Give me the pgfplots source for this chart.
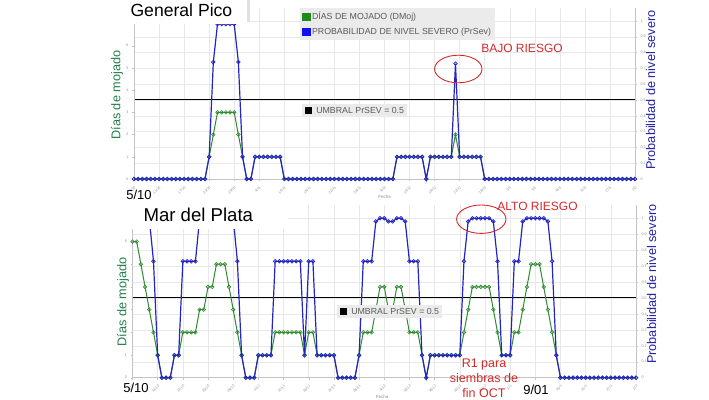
\documentclass[border=0pt]{standalone}
\usepackage{pgfplots}
\pgfplotsset{compat=1.18}
\usepackage{pgfplotstable}
\usepackage{fontspec}
\setmainfont{Liberation Sans}
\definecolor{bl}{HTML}{2424C4}
\definecolor{gr}{HTML}{2E8B2E}
\definecolor{glab}{HTML}{23804F}
\definecolor{blab}{HTML}{2222A8}
\definecolor{rd}{HTML}{D42A2A}
\definecolor{gridc}{HTML}{E8E8E8}
\definecolor{axc}{HTML}{C4C4C4}
\definecolor{lgbg}{HTML}{EBEBEB}
\definecolor{lgtx}{HTML}{5A5A5A}
\definecolor{tkc}{HTML}{8A8A8A}
\definecolor{lgg}{HTML}{1E8A1E}
\definecolor{lgb}{HTML}{1010F0}

% General Pico: i = day index from 5/10, g = dias de mojado, b = PrSev
\pgfplotstableread[row sep=\\]{
i g b\\
0 0 0\\1 0 0\\2 0 0\\3 0 0\\4 0 0\\5 0 0\\6 0 0\\7 0 0\\8 0 0\\9 0 0\\
10 0 0\\11 0 0\\12 0 0\\13 0 0\\14 0 0\\15 0 0\\16 0 0\\17 0 0\\18 1 0.14\\19 2 0.74\\
20 3 0.98\\21 3 0.98\\22 3 0.98\\23 3 0.98\\24 3 0.98\\25 2 0.74\\26 1 0.14\\27 0 0\\28 0 0\\29 1 0.14\\
30 1 0.14\\31 1 0.14\\32 1 0.14\\33 1 0.14\\34 1 0.14\\35 1 0.14\\36 0 0\\37 0 0\\38 0 0\\39 0 0\\
40 0 0\\41 0 0\\42 0 0\\43 0 0\\44 0 0\\45 0 0\\46 0 0\\47 0 0\\48 0 0\\49 0 0\\
50 0 0\\51 0 0\\52 0 0\\53 0 0\\54 0 0\\55 0 0\\56 0 0\\57 0 0\\58 0 0\\59 0 0\\
60 0 0\\61 0 0\\62 0 0\\63 1 0.14\\64 1 0.14\\65 1 0.14\\66 1 0.14\\67 1 0.14\\68 1 0.14\\69 1 0.14\\
70 0 0\\71 1 0.14\\72 1 0.14\\73 1 0.14\\74 1 0.14\\75 1 0.14\\76 1 0.14\\77 2 0.73\\78 1 0.14\\79 1 0.14\\
80 1 0.14\\81 1 0.14\\82 1 0.14\\83 1 0.14\\84 0 0\\85 0 0\\86 0 0\\87 0 0\\88 0 0\\89 0 0\\
90 0 0\\91 0 0\\92 0 0\\93 0 0\\94 0 0\\95 0 0\\96 0 0\\97 0 0\\98 0 0\\99 0 0\\
100 0 0\\101 0 0\\102 0 0\\103 0 0\\104 0 0\\105 0 0\\106 0 0\\107 0 0\\108 0 0\\109 0 0\\
110 0 0\\111 0 0\\112 0 0\\113 0 0\\114 0 0\\115 0 0\\116 0 0\\117 0 0\\118 0 0\\119 0 0\\
120 0 0\\
}\gp

% Mar del Plata
\pgfplotstableread[row sep=\\]{
i g b\\
0 6 1\\1 6 1\\2 5 1\\3 4 1\\4 3 1\\5 2 0.73\\6 1 0.14\\7 0 0\\8 0 0\\9 0 0\\
10 1 0.14\\11 1 0.14\\12 2 0.73\\13 2 0.73\\14 2 0.73\\15 2 0.73\\16 3 1\\17 3 1\\18 4 1\\19 4 1\\
20 5 1\\21 5 1\\22 5 1\\23 4 1\\24 3 1\\25 2 0.73\\26 1 0.14\\27 0 0\\28 0 0\\29 0 0\\
30 1 0.14\\31 1 0.14\\32 1 0.14\\33 1 0.14\\34 2 0.73\\35 2 0.73\\36 2 0.73\\37 2 0.73\\38 2 0.73\\39 2 0.73\\
40 2 0.73\\41 1 0.14\\42 2 0.73\\43 2 0.73\\44 1 0.14\\45 1 0.14\\46 1 0.14\\47 1 0.14\\48 1 0.14\\49 0 0\\
50 0 0\\51 0 0\\52 0 0\\53 0 0\\54 1 0.14\\55 2 0.73\\56 2 0.73\\57 2 0.73\\58 3 0.98\\59 4 1\\
60 4 1\\61 3 0.98\\62 3 0.98\\63 4 1\\64 4 1\\65 3 0.98\\66 2 0.73\\67 2 0.73\\68 2 0.73\\69 1 0.14\\
70 0 0\\71 1 0.14\\72 1 0.14\\73 1 0.14\\74 1 0.14\\75 1 0.14\\76 1 0.14\\77 1 0.14\\78 1 0.14\\79 2 0.73\\
80 3 0.98\\81 4 1\\82 4 1\\83 4 1\\84 4 1\\85 4 1\\86 3 0.98\\87 2 0.73\\88 1 0.14\\89 1 0.14\\
90 1 0.14\\91 2 0.73\\92 2 0.73\\93 3 0.98\\94 4 1\\95 5 1\\96 5 1\\97 5 1\\98 4 1\\99 3 0.98\\
100 2 0.73\\101 1 0.14\\102 0 0\\103 0 0\\104 0 0\\105 0 0\\106 0 0\\107 0 0\\108 0 0\\109 0 0\\
110 0 0\\111 0 0\\112 0 0\\113 0 0\\114 0 0\\115 0 0\\116 0 0\\117 0 0\\118 0 0\\119 0 0\\
120 0 0\\
}\mp

\newcommand\tk{\fontsize{3.6}{4}\selectfont}

\pgfplotsset{
  panel/.style={scale only axis, xmin=0, xmax=120, clip=false,
    axis line style={axc, line width=0.6pt}, tick style={axc, line width=0.4pt},
    major tick length=2pt, xtick={0,6,...,120}, tick align=outside},
  bgpanel/.style={panel, ymin=0, ymax=#1,
    ytick={0,0.1,0.2,0.3,0.4,0.5,0.6,0.7,0.8,0.9,1},
    grid=major, grid style={gridc, line width=0.5pt},
    xticklabels={}, yticklabels={}, axis line style={draw=none}, tick style={draw=none}},
  gpanel/.style={panel, ymin=0, ymax=#1, axis y line*=left, axis x line*=bottom,
    ytick={0,1,2,3,4,5,6}, yticklabels={0,1,2,3,4,5,6},
    yticklabel style={font=\tk, text=tkc},
    xticklabels={5/10,11/10,17/10,23/10,29/10,4/11,10/11,16/11,22/11,28/11,4/12,10/12,16/12,22/12,28/12,3/1,9/1,15/1,21/1,27/1,2/2},
    xticklabel style={font=\tk, text=tkc, rotate=45, anchor=north east}},
  bpanel/.style={panel, ymin=0, ymax=#1, axis y line*=right, axis x line=none,
    ytick={0,0.1,0.2,0.3,0.4,0.5,0.6,0.7,0.8,0.9,1},
    yticklabels={0,0.1,0.2,0.3,0.4,0.5,0.6,0.7,0.8,0.9,1},
    yticklabel style={font=\tk, text=tkc}},
  gline/.style={gr, line width=1pt, mark=o, mark size=1.8pt, mark options={fill=white, line width=0.6pt}},
  bline/.style={bl, line width=1.2pt, mark=o, mark size=1.8pt, mark options={fill=white, line width=0.7pt}},
}

\begin{document}
\begin{tikzpicture}
\useasboundingbox (0pt,0pt) rectangle (709pt,399pt);

%%%%% General Pico
\begin{axis}[bgpanel=1.082, at={(134pt,220pt)}, anchor=south west, width=501pt, height=171pt]
\addplot[black, line width=1pt] coordinates {(0,0.5) (120,0.5)};
\end{axis}
\begin{axis}[gpanel=7.70, at={(134pt,220pt)}, anchor=south west, width=501pt, height=171pt,
  ylabel={Días de mojado},
  every axis y label/.style={at={(axis description cs:-0.034,0.49)}, rotate=90, anchor=center, font=\fontsize{12.7}{14}\selectfont, text=glab},
  xlabel={Fecha},
  every axis x label/.style={at={(axis description cs:0.5,-0.105)}, anchor=center, font=\fontsize{4.5}{5}\selectfont, text=tkc}]
\addplot[gline] table[x=i,y=g]{\gp};
\end{axis}
\begin{axis}[bpanel=1.082, at={(134pt,220pt)}, anchor=south west, width=501pt, height=171pt,
  ylabel={Probabilidad de nivel severo},
  every axis y label/.style={at={(axis description cs:1.031,0.52)}, rotate=90, anchor=center, font=\fontsize{12.7}{14}\selectfont, text=blab},
  legend style={at={(axis description cs:0.331,1)}, anchor=north west, fill=lgbg, draw=none,
    font=\fontsize{8.8}{10}\selectfont, text=lgtx, inner sep=2pt, row sep=2.5pt},
  legend cell align=left,
  legend image code/.code={\fill[#1] (0pt,-3.8pt) rectangle (7.6pt,3.8pt);}]
\addlegendimage{lgg}\addlegendentry{DÍAS DE MOJADO (DMoj)}
\addlegendimage{lgb}\addlegendentry{PROBABILIDAD DE NIVEL SEVERO (PrSev)}
\addplot[bline, forget plot] table[x=i,y=b]{\gp};
\end{axis}

%%%%% Mar del Plata
\begin{axis}[bgpanel=1.083, at={(132.5pt,21.3pt)}, anchor=south west, width=503.5pt, height=172.7pt]
\addplot[black, line width=1pt] coordinates {(0,0.5) (120,0.5)};
\end{axis}
\begin{axis}[gpanel=7.61, at={(132.5pt,21.3pt)}, anchor=south west, width=503.5pt, height=172.7pt,
  ylabel={Días de mojado},
  every axis y label/.style={at={(axis description cs:-0.019,0.438)}, rotate=90, anchor=center, font=\fontsize{12.7}{14}\selectfont, text=glab},
  xlabel={Fecha},
  every axis x label/.style={at={(axis description cs:0.496,-0.109)}, anchor=center, font=\fontsize{4.5}{5}\selectfont, text=tkc}]
\addplot[gline] table[x=i,y=g]{\mp};
\end{axis}
\begin{axis}[bpanel=1.083, at={(132.5pt,21.3pt)}, anchor=south west, width=503.5pt, height=172.7pt,
  ylabel={Probabilidad de nivel severo},
  every axis y label/.style={at={(axis description cs:1.031,0.542)}, rotate=90, anchor=center, font=\fontsize{12.7}{14}\selectfont, text=blab}]
\addplot[bline] table[x=i,y=b]{\mp};
\end{axis}

%%%%% overlays
\fill[white] (100pt,374.5pt) rectangle (247pt,399pt);
\fill[black!12] (247pt,377pt) rectangle (250pt,399pt);
\node[anchor=base west, font=\fontsize{17.6}{19}\selectfont] at (127pt,382.3pt) {General Pico};
\fill[white] (100pt,170pt) rectangle (288pt,199pt);
\node[anchor=base west, font=\fontsize{18.6}{21}\selectfont] at (140pt,177.3pt) {Mar del Plata};

\node[font=\fontsize{13}{14}\selectfont] at (139pt,204.5pt) {5/10};
\node[font=\fontsize{13}{14}\selectfont] at (136pt,11pt) {5/10};
\node[font=\fontsize{13}{14}\selectfont] at (536pt,9pt) {9/01};

\node[fill=lgbg, anchor=west, inner sep=2.5pt, font=\fontsize{8.8}{10}\selectfont, text=lgtx] at (302pt,288.5pt)
  {\textcolor{black}{\rule[-0.6pt]{7.6pt}{7.6pt}}\hspace{4pt}UMBRAL PrSEV = 0.5};
\node[fill=lgbg, anchor=west, inner sep=2.5pt, font=\fontsize{8.8}{10}\selectfont, text=lgtx] at (337pt,87.5pt)
  {\textcolor{black}{\rule[-0.6pt]{7.6pt}{7.6pt}}\hspace{4pt}UMBRAL PrSEV = 0.5};

\node[text=rd, font=\fontsize{12}{13}\selectfont] at (522pt,350.7pt) {BAJO RIESGO};
\draw[rd, line width=0.9pt] (458.3pt,330pt) ellipse [x radius=23.7pt, y radius=13.8pt];
\node[text=rd, font=\fontsize{12}{13}\selectfont] at (537.5pt,192.3pt) {ALTO RIESGO};
\draw[rd, line width=0.9pt] (481.3pt,179.8pt) ellipse [x radius=24.7pt, y radius=14.2pt];
\node[text=rd, align=center, font=\fontsize{12.5}{15}\selectfont] at (484pt,21pt) {R1 para\\siembras de\\fin OCT};
\end{tikzpicture}
\end{document}
